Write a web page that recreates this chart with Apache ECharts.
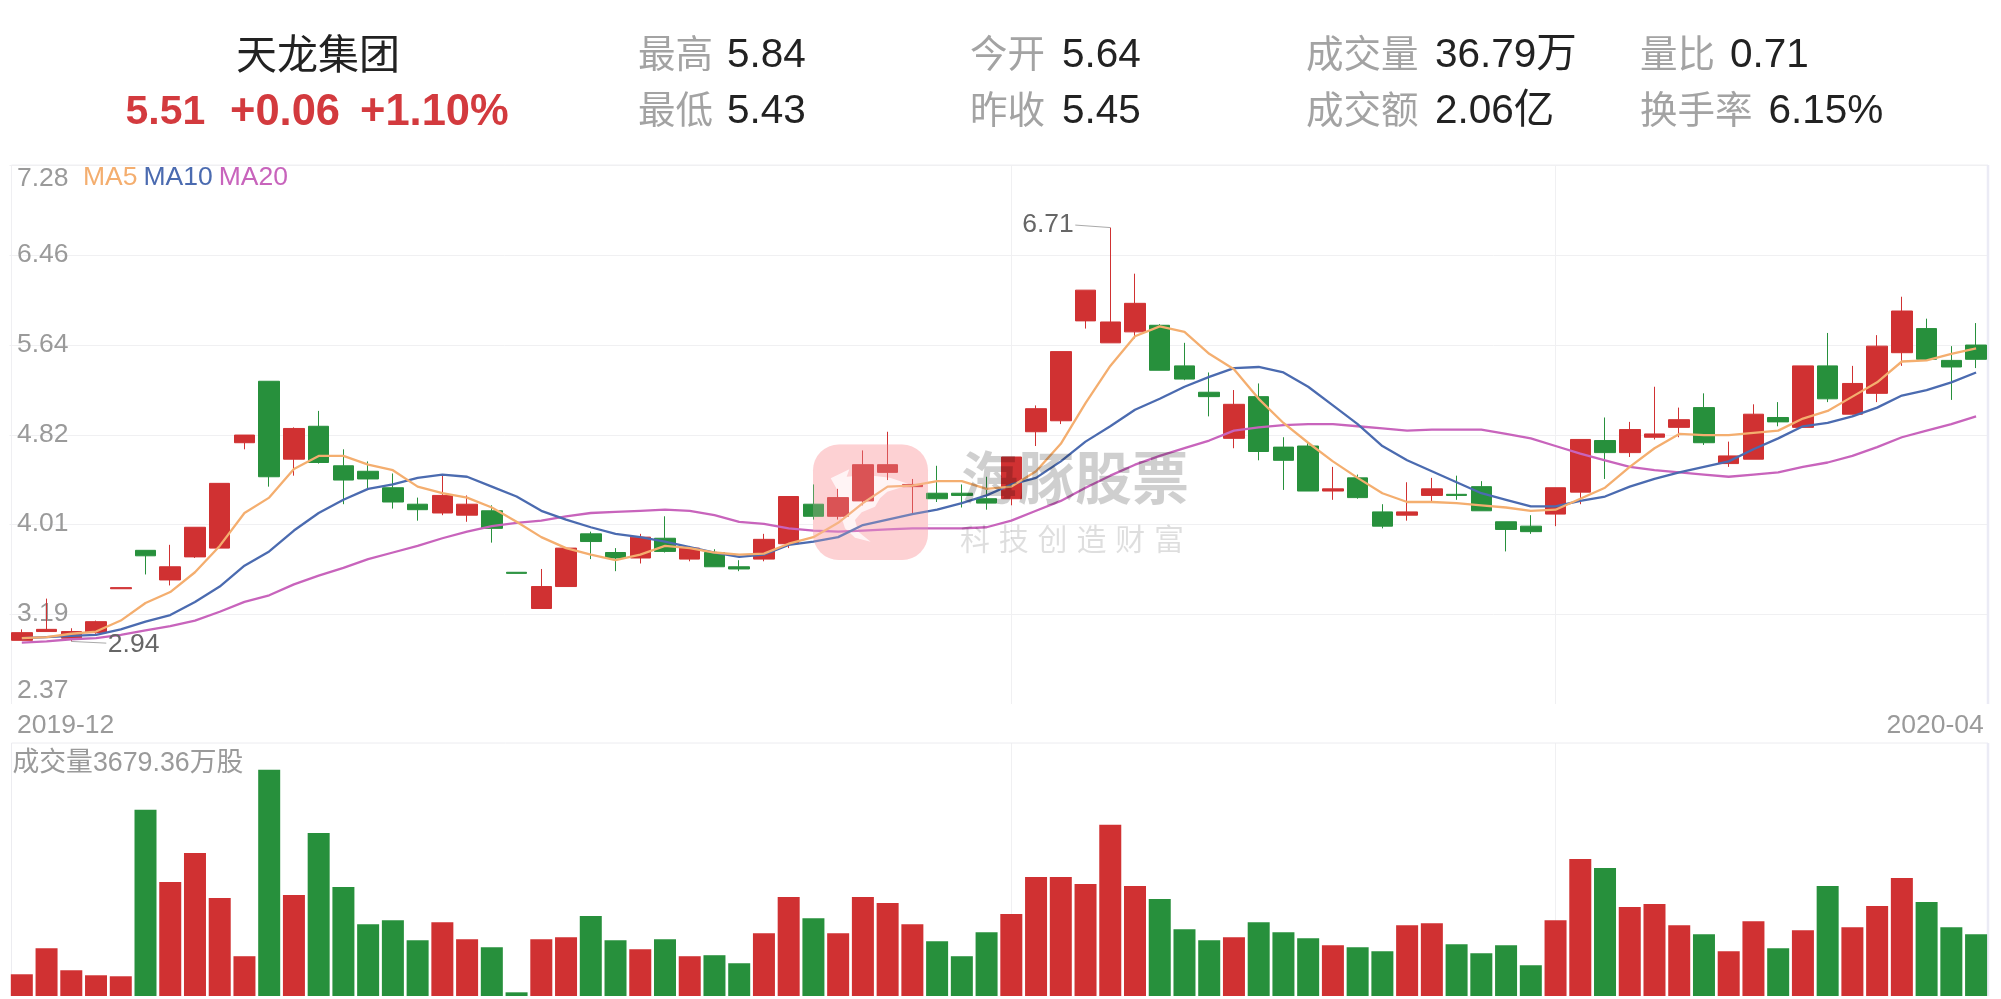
<!DOCTYPE html>
<html><head><meta charset="utf-8">
<style>html,body{margin:0;padding:0;background:#fff}#c{width:2001px;height:999px}</style>
<script src="https://cdn.jsdelivr.net/npm/echarts@6/dist/echarts.min.js"></script>
</head><body><div id="c"></div>
<script>
const FONT = '"Liberation Sans","Noto Sans CJK SC",sans-serif';
const UP = '#d03132', DOWN = '#27903c';

// [open, close, low, high]
const candles = [
[2.95,3.02,2.95,3.05],[3.03,3.05,3.03,3.33],[2.97,3.03,2.94,3.06],[3.02,3.12,3.01,3.13],[3.42,3.43,3.42,3.43],
[3.77,3.72,3.55,3.77],[3.50,3.62,3.45,3.82],[3.71,3.98,3.70,3.98],[3.79,4.38,3.79,4.38],[4.75,4.82,4.69,4.82],
[5.31,4.44,4.35,5.31],[4.60,4.88,4.45,4.89],[4.90,4.57,4.56,5.04],[4.54,4.41,4.19,4.69],[4.49,4.42,4.32,4.58],
[4.34,4.21,4.15,4.47],[4.19,4.14,4.04,4.25],[4.11,4.27,4.09,4.46],[4.09,4.19,4.03,4.27],[4.13,3.97,3.84,4.18],
[3.57,3.56,3.56,3.57],[3.24,3.44,3.24,3.60],[3.44,3.79,3.44,3.79],[3.92,3.85,3.69,3.94],[3.75,3.70,3.58,3.79],
[3.70,3.89,3.65,3.92],[3.88,3.76,3.75,4.08],[3.69,3.79,3.67,3.81],[3.75,3.62,3.62,3.78],[3.62,3.60,3.58,3.68],
[3.69,3.87,3.67,3.92],[3.83,4.26,3.79,4.26],[4.19,4.08,4.05,4.37],[4.08,4.25,4.05,4.33],[4.22,4.55,4.18,4.68],
[4.48,4.55,4.41,4.85],[4.35,4.37,4.10,4.42],[4.29,4.24,4.21,4.54],[4.29,4.27,4.16,4.37],[4.24,4.20,4.14,4.44],
[4.24,4.62,4.18,4.62],[4.85,5.06,4.72,5.09],[4.95,5.58,4.92,5.58],[5.86,6.14,5.79,6.14],[5.66,5.85,5.66,6.71],
[5.76,6.02,5.70,6.29],[5.82,5.41,5.41,5.83],[5.45,5.33,5.32,5.66],[5.21,5.17,4.99,5.39],[4.79,5.10,4.70,5.23],
[5.17,4.67,4.59,5.29],[4.71,4.59,4.32,4.80],[4.72,4.31,4.31,4.75],[4.31,4.33,4.23,4.53],[4.43,4.25,4.24,4.46],
[4.12,3.99,3.97,4.19],[4.09,4.12,4.04,4.39],[4.27,4.33,4.21,4.43],[4.28,4.27,4.23,4.45],[4.35,4.13,4.13,4.40],
[4.03,3.96,3.76,4.03],[3.99,3.94,3.92,4.09],[4.10,4.34,3.99,4.34],[4.30,4.78,4.19,4.78],[4.77,4.66,4.42,4.98],
[4.66,4.87,4.62,4.94],[4.80,4.83,4.78,5.26],[4.89,4.96,4.80,5.07],[5.07,4.75,4.73,5.20],[4.56,4.63,4.53,4.76],
[4.60,5.01,4.60,5.10],[4.98,4.94,4.90,5.12],[4.89,5.45,4.89,5.45],[5.45,5.15,5.12,5.75],[5.01,5.29,5.01,5.45],
[5.20,5.63,5.12,5.73],[5.57,5.95,5.45,6.08],[5.79,5.51,5.51,5.88],[5.50,5.44,5.14,5.63],[5.64,5.51,5.43,5.84]
];
const ma5 = [2.97,2.98,3.01,3.03,3.13,3.29,3.39,3.57,3.81,4.11,4.25,4.51,4.63,4.63,4.55,4.50,4.35,4.29,4.25,4.16,
4.03,3.89,3.79,3.73,3.68,3.73,3.81,3.79,3.75,3.73,3.74,3.83,3.89,4.02,4.20,4.35,4.36,4.40,4.40,4.33,
4.35,4.49,4.74,5.11,5.45,5.72,5.81,5.76,5.56,5.42,5.15,4.93,4.75,4.58,4.43,4.29,4.21,4.21,4.20,4.18,
4.16,4.13,4.14,4.24,4.34,4.53,4.70,4.83,4.82,4.82,4.84,4.86,4.97,5.04,5.17,5.30,5.49,5.50,5.56,5.61];
const ma10 = [2.97,2.98,2.99,3.00,3.05,3.12,3.18,3.30,3.44,3.63,3.76,3.95,4.11,4.23,4.33,4.37,4.43,4.46,4.44,4.35,
4.26,4.13,4.05,3.98,3.92,3.89,3.85,3.80,3.75,3.71,3.73,3.82,3.85,3.89,4.00,4.05,4.10,4.14,4.20,4.27,
4.37,4.43,4.58,4.76,4.90,5.05,5.15,5.26,5.35,5.43,5.44,5.39,5.26,5.09,4.92,4.72,4.59,4.49,4.39,4.29,
4.23,4.17,4.17,4.22,4.26,4.35,4.42,4.48,4.53,4.58,4.69,4.79,4.90,4.93,4.99,5.07,5.18,5.23,5.30,5.39];
const ma20 = [2.93,2.94,2.96,2.97,3.00,3.04,3.08,3.13,3.21,3.30,3.36,3.46,3.54,3.61,3.69,3.75,3.81,3.88,3.94,3.99,
4.02,4.04,4.08,4.11,4.12,4.13,4.14,4.13,4.09,4.03,4.01,3.97,3.95,3.94,3.95,3.96,3.97,3.97,3.97,3.98,
4.04,4.13,4.22,4.34,4.45,4.55,4.63,4.70,4.77,4.86,4.89,4.91,4.92,4.92,4.90,4.88,4.86,4.87,4.87,4.87,
4.83,4.79,4.72,4.65,4.59,4.53,4.50,4.48,4.46,4.44,4.46,4.48,4.53,4.57,4.63,4.71,4.80,4.86,4.92,4.99];
// volume, 万股
const volumes = [1293,2844,1532,1233,1174,11079,6782,8513,5828,2367,13466,6007,9706,6484,4276,4515,3322,4396,3381,2904,
219,3381,3501,4754,3322,2785,3381,2367,2427,1949,3739,5887,4634,3739,5887,5529,4276,3262,2367,3799,
4873,7081,7081,6663,10184,6544,5768,3978,3322,3501,4396,3799,3441,3023,2904,2665,4217,4336,3083,2546,
3023,1830,4515,8155,7618,5291,5470,4217,3680,2665,4455,2844,3918,6544,4097,5350,7021,5589,4097,3679.36];
const yTicks = [2.37,3.19,4.01,4.82,5.64,6.46,7.28];
const xLabels = ['2019-12','2020-04'];
const monthLines = [40,62];
const extremes = [[44,6.71,-1],[2,2.94,1]];
const maNames = ['MA5','MA10','MA20'];
const maColors = ['#f4ae6f','#4b6bb0','#c864bc'];

const title = '天龙集团';
const quote = ['5.51','+0.06','+1.10%'];
const stats = [
  ['最高','5.84',638,727,56],['最低','5.43',638,727,111.5],
  ['今开','5.64',970,1062,56],['昨收','5.45',970,1062,111.5],
  ['成交量','36.79万',1306,1435,56],['成交额','2.06亿',1306,1435,111.5],
  ['量比','0.71',1640,1730,56],['换手率','6.15%',1640,1768.5,111.5]
];
const volTitle = '成交量3679.36万股';

const cats = candles.map((_, i) => String(i));
const GL = 9.45, GW = 1979;
const txt = (text,x,y,size,fill,extra={}) => ({type:'text',z:5,silent:true,style:Object.assign({text,x,y,fill,font:`${size}px ${FONT}`,verticalAlign:'middle'},extra)});

const header = [
  txt(title,318,57.5,41,'#222',{align:'center'}),
  txt(quote[0],125.5,113,41,'#d33a3e',{font:`bold 41px ${FONT}`}),
  txt(quote[1],230,113,41,'#d33a3e',{font:`bold 43.5px ${FONT}`}),
  txt(quote[2],360,113,41,'#d33a3e',{font:`bold 43.5px ${FONT}`})
];
stats.forEach(s => {
  header.push(txt(s[0],s[2],s[4]+1,37.5,'#a3a3a3'));
  header.push(txt(s[1],s[3],s[4],40.5,'#222'));
});
const frameLine = (x1,y1,x2,y2,stroke,lineWidth) => ({type:'line',z:1,silent:true,shape:{x1,y1,x2,y2},style:{stroke,lineWidth}});
const frames = [
  frameLine(11.5,165,1988,165,'#efeff2',1),
  frameLine(11.5,165,11.5,704,'#efeff2',1),
  frameLine(1988,165,1988,704,'#ebebf5',2.5),
  frameLine(11.5,743,1988,743,'#ececf0',1),
  frameLine(11.5,743,11.5,996,'#ececf0',1),
  frameLine(1988,743,1988,996,'#ebebf5',2.5),
  txt(volTitle,12.5,763.5,26.8,'#9a9a9a')
];
const FISH = [[92,130],[148,103],[140,125],[200,120],[270,128],[335,150],[300,158],[262,170],[240,190],[225,215],[185,232],[165,255],[175,290],[212,320],[165,308],[135,280],[122,240],[120,210],[112,165]];
const watermarkBack = [
  {type:'rect',z:1,silent:true,shape:{x:813,y:444.5,width:115,height:115.5,r:26},style:{fill:'#fdd2d4'}},
  {type:'polygon',z:1,silent:true,x:800,y:435,scaleX:1/3,scaleY:1/3,shape:{points:FISH},style:{fill:'#fff'}}
];
const watermarkFront = [
  {type:'rect',z:100,silent:true,shape:{x:813,y:444.5,width:115,height:115.5,r:26},style:{fill:'rgba(255,205,210,0.22)'}},
  {type:'text',z:100,silent:true,style:{text:'海豚股票',x:961,y:477,fill:'rgba(0,0,0,0.19)',font:'bold 57px "Noto Sans CJK SC"',verticalAlign:'middle'}}
];
'科技创造财富'.split('').forEach((ch,i)=>watermarkFront.push(
  {type:'text',z:100,silent:true,style:{text:ch,x:960+i*38.8,y:538.5,fill:'rgba(0,0,0,0.13)',font:'30px "Noto Sans CJK SC"',verticalAlign:'middle'}}));

const splitX = {show:true,alignWithLabel:true,interval:(i)=>monthLines.includes(i),lineStyle:{color:'#f0f0f2',width:1}};
const option = {
  animation:false,
  backgroundColor:'#fff',
  textStyle:{fontFamily:FONT},
  legend:{left:78,top:164,itemWidth:0,itemHeight:1,itemGap:1,icon:'none',selectedMode:false,padding:0,
    textStyle:{fontSize:26.5,fontFamily:FONT,padding:0},
    data:maNames.map((n,i)=>({name:n,icon:'none',textStyle:{color:maColors[i],fontSize:26.5}}))},
  grid:[
    {left:GL,width:GW,top:165,height:539,show:false},
    {left:GL,width:GW,top:743,height:253,show:false},
    {left:17,width:1966.8,top:704,height:1,show:false}
  ],
  xAxis:[
    {type:'category',gridIndex:0,data:cats,axisLine:{show:false},axisTick:{show:false,alignWithLabel:true},axisLabel:{show:false},splitLine:splitX},
    {type:'category',gridIndex:1,data:cats,axisLine:{show:false},axisTick:{show:false,alignWithLabel:true},axisLabel:{show:false},splitLine:splitX},
    {type:'category',gridIndex:2,data:xLabels,boundaryGap:false,axisLine:{show:false},axisTick:{show:false},
      axisLabel:{show:true,interval:0,fontSize:26.5,color:'#9a9a9a',fontFamily:FONT,margin:7.5,alignMinLabel:'left',alignMaxLabel:'right'}}
  ],
  yAxis:[
    {type:'value',gridIndex:0,min:2.37,max:7.28,scale:true,axisLine:{show:false},
      axisTick:{show:false,customValues:yTicks},
      axisLabel:{show:true,inside:true,margin:7.5,customValues:yTicks,fontSize:26.5,color:'#9a9a9a',fontFamily:FONT,
        formatter:v=>Number(v).toFixed(2),verticalAlignMinLabel:'bottom',verticalAlignMaxLabel:'top'},
      splitLine:{show:true,showMinLine:false,lineStyle:{color:'#f0f0f2',width:1}}},
    {type:'value',gridIndex:1,min:0,max:15056,show:false,splitLine:{show:false}},
    {type:'value',gridIndex:2,show:false,splitLine:{show:false}}
  ],
  graphic:{elements:[...frames,...header,...watermarkBack,...watermarkFront]},
  series:[
    {name:'K',type:'candlestick',xAxisIndex:0,yAxisIndex:0,data:candles,barWidth:21,z:3,
      itemStyle:{color:UP,color0:DOWN,borderColor:UP,borderColor0:DOWN,borderColorDoji:UP,borderWidth:1}},
    ...maNames.map((n,i)=>({name:n,type:'line',xAxisIndex:0,yAxisIndex:0,data:[ma5,ma10,ma20][i],symbol:'none',smooth:false,z:[6,5,4][i],
      itemStyle:{color:maColors[i]},lineStyle:{color:maColors[i],width:2.3}})),
    {name:'extremes',type:'custom',xAxisIndex:0,yAxisIndex:0,data:extremes,z:7,clip:false,encode:{x:0,y:1},
      renderItem:(params,api)=>{
        const p = api.coord([api.value(0),api.value(1)]);
        const d = api.value(2);
        return {type:'group',children:[
          {type:'line',shape:{x1:p[0],y1:p[1],x2:p[0]+d*35,y2:p[1]+(d<0?-2.5:1.7)},style:{stroke:'#aaa',lineWidth:1,fill:null}},
          {type:'text',style:{text:api.value(1).toFixed(2),x:p[0]+d*36.5,y:p[1]+(d<0?-3:3.7),fill:'#666',font:`26.5px ${FONT}`,
            align:d<0?'right':'left',verticalAlign:'middle'}}
        ]};
      }},
    {name:'volume',type:'bar',xAxisIndex:1,yAxisIndex:1,barWidth:22,z:3,
      data:volumes.map((v,i)=>({value:v,itemStyle:{color:candles[i][1]>=candles[i][0]?UP:DOWN}}))},
    {name:'labels',type:'line',xAxisIndex:2,yAxisIndex:2,data:[],silent:true}
  ]
};
echarts.init(document.getElementById('c'),null,{renderer:'canvas'}).setOption(option);
</script></body></html>
